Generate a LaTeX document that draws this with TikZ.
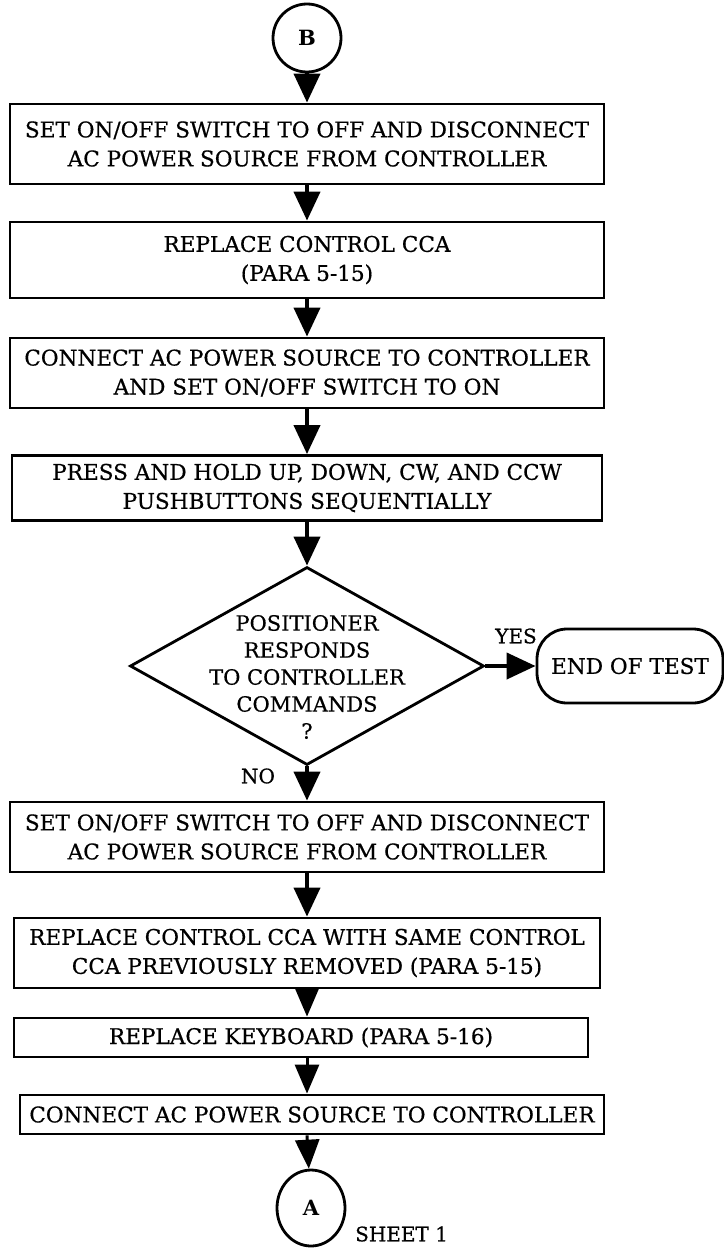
\documentclass[tikz,border=0pt]{standalone}
\usepackage{fontspec}
\setmainfont{DejaVu Serif}[FakeBold=0.6]
\newfontfamily\boldlbl{DejaVu Serif Bold}
\usetikzlibrary{shapes.geometric,arrows.meta}
\begin{document}
\begin{tikzpicture}[x=1pt,y=-1pt,
  every node/.style={font=\fontsize{21.6}{29}\selectfont,inner sep=0pt},
  stepbox/.style={draw,line width=2.8pt,rectangle,align=center,minimum height=#1},
  stepbox/.default=72pt,
  flow/.style={line width=4pt,-{Triangle[length=29pt,width=26pt]}},
  thinflow/.style={line width=3pt,-{Triangle[length=29pt,width=24pt]}},
  lbl/.style={font=\fontsize{20}{22}\selectfont}
  ]
\useasboundingbox (0,0) rectangle (723,1258);
\fill[white] (0,0) rectangle (723,1258);
\node[circle,draw,line width=2.8pt,minimum size=68pt] (B) at (307,38) {\boldlbl\fontsize{21}{22}\selectfont B};
\node[stepbox=80pt,minimum width=594pt] (s1) at (307,144) {SET ON/OFF SWITCH TO OFF AND DISCONNECT\\AC POWER SOURCE FROM CONTROLLER};
\node[stepbox=76pt,minimum width=594pt] (s2) at (307,260) {REPLACE CONTROL CCA\\(PARA 5-15)};
\node[stepbox=70pt,minimum width=594pt] (s3) at (307,373) {CONNECT AC POWER SOURCE TO CONTROLLER\\AND SET ON/OFF SWITCH TO ON};
\node[stepbox=65pt,minimum width=590pt] (s4) at (307,488) {PRESS AND HOLD UP, DOWN, CW, AND CCW\\PUSHBUTTONS SEQUENTIALLY};
\node[diamond,draw,line width=2.8pt,minimum width=354pt,minimum height=198pt] (d) at (307,666) {};
\node[align=center,font=\fontsize{21}{27}\selectfont] (dt) at (307,677) {POSITIONER\\RESPONDS\\TO CONTROLLER\\COMMANDS\\?};
\node[draw,line width=2.8pt,rounded corners=30pt,minimum width=186pt,minimum height=74pt] (end) at (630,666) {END OF TEST};
\node[lbl] (yes) at (516,636) {YES};
\node[lbl] (no) at (258,776) {NO};
\node[stepbox=70pt,minimum width=594pt] (s5) at (307,837) {SET ON/OFF SWITCH TO OFF AND DISCONNECT\\AC POWER SOURCE FROM CONTROLLER};
\node[stepbox=70pt,minimum width=586pt] (s6) at (307,953) {REPLACE CONTROL CCA WITH SAME CONTROL\\CCA PREVIOUSLY REMOVED (PARA 5-15)};
\node[stepbox=39pt,minimum width=574pt] (s7) at (301,1037.5) {REPLACE KEYBOARD (PARA 5-16)};
\node[stepbox=39pt,minimum width=584pt] (s8) at (312,1114.5) {CONNECT AC POWER SOURCE TO CONTROLLER};
\node[ellipse,draw,line width=2.8pt,minimum width=68pt,minimum height=76pt] (A) at (311,1208) {\boldlbl\fontsize{21}{22}\selectfont A};
\node[lbl,anchor=west] (sheet) at (355,1234) {SHEET 1};
\draw[flow] (B) -- (s1);
\draw[flow] (s1) -- (s2);
\draw[flow] (s2) -- (s3);
\draw[flow] (s3) -- (s4);
\draw[flow] (s4) -- (d);
\draw[flow] (d.east) -- (end.west);
\draw[flow] (d) -- (s5);
\draw[flow] (s5) -- (s6);
\draw[thinflow] (s6.south) -- (s6.south |- s7.north);
\draw[thinflow] (s7.south -| s6.south) -- (s6.south |- s8.north);
\draw[thinflow] (s8.south -| s6.south) -- (A);
\end{tikzpicture}
\end{document}
